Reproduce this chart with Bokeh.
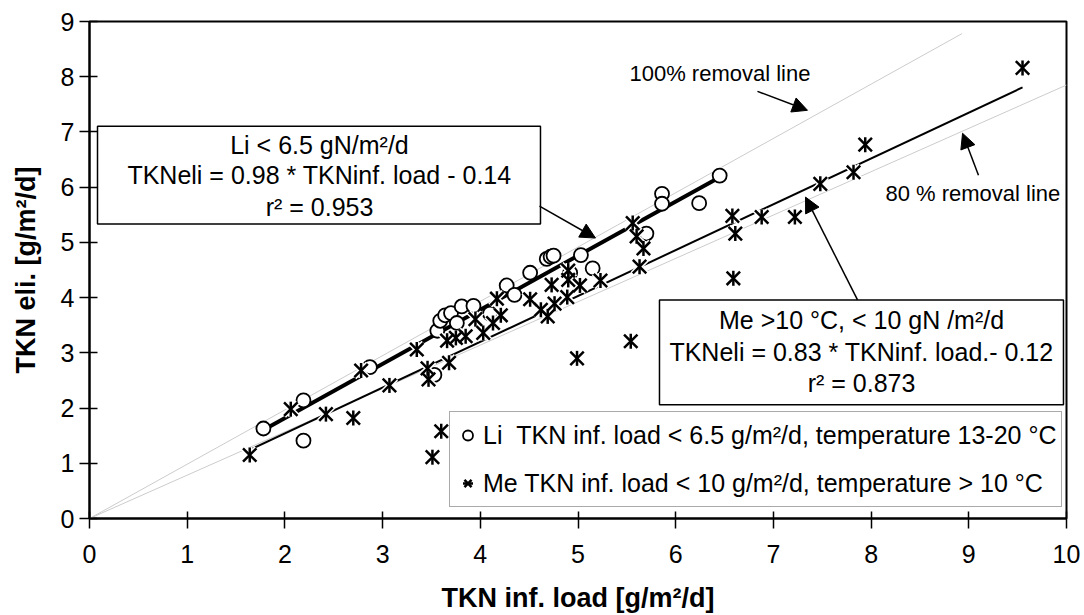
import numpy as np
from bokeh.plotting import figure
from bokeh.models import Range1d, FixedTicker, Arrow, NormalHead, Legend, LegendItem
from bokeh.core.properties import value
from bokeh.embed import file_html
from bokeh.resources import INLINE

# ---------------- data ----------------
li_x = [1.78, 2.19, 2.19, 2.87, 3.53, 3.56, 3.59, 3.64, 3.70, 3.76, 3.81, 3.93, 4.10, 4.27,
        4.35, 4.51, 4.68, 4.72, 4.75, 4.92, 5.03, 5.15, 5.70, 5.86, 5.86, 6.24, 6.45]
li_y = [1.63, 1.41, 2.14, 2.74, 2.60, 3.40, 3.58, 3.68, 3.72, 3.54, 3.84, 3.85, 3.71, 4.22,
        4.05, 4.45, 4.70, 4.74, 4.76, 4.45, 4.77, 4.53, 5.16, 5.88, 5.70, 5.71, 6.21]

me_x = [1.64, 2.06, 2.42, 2.70, 2.78, 3.07, 3.35, 3.46, 3.47, 3.51, 3.60, 3.68, 3.66, 3.75,
        3.85, 3.95, 4.03, 4.13, 4.21, 4.17, 4.51, 4.62, 4.69, 4.73, 4.76, 4.89, 4.90, 4.90,
        5.02, 5.23, 4.99, 5.54, 5.56, 5.60, 5.67, 5.63, 6.58, 6.61, 6.59, 6.88, 7.22, 7.48,
        7.82, 7.94, 9.55]
me_y = [1.15, 1.98, 1.89, 1.82, 2.68, 2.41, 3.06, 2.72, 2.52, 1.11, 1.58, 2.82, 3.22, 3.27,
        3.30, 3.61, 3.36, 3.54, 3.68, 3.98, 3.97, 3.78, 3.66, 4.23, 3.89, 4.01, 4.49, 4.32,
        4.22, 4.31, 2.90, 3.21, 5.35, 5.11, 4.89, 4.56, 5.48, 5.16, 4.35, 5.46, 5.46, 6.06,
        6.27, 6.77, 8.16]

li_slope, li_intercept = 0.98, -0.14
me_slope, me_intercept = 0.83, -0.12

ref100_x = [0.0, 8.93]
ref100_y = [0.0, 8.78]
ref80_x = [0.0, 10.0]
ref80_y = [0.0, 7.85]

x_ticks = [0, 1, 2, 3, 4, 5, 6, 7, 8, 9, 10]
y_ticks = [0, 1, 2, 3, 4, 5, 6, 7, 8, 9]

li_box_lines = ["Li < 6.5 gN/m²/d", "TKNeli = 0.98 * TKNinf. load - 0.14", "r² = 0.953"]
me_box_lines = ["Me >10 °C, < 10 gN /m²/d", "TKNeli = 0.83 * TKNinf. load.- 0.12", "r² = 0.873"]
li_legend = "Li \u00a0TKN inf. load < 6.5 g/m²/d, temperature 13-20 °C"
me_legend = "Me TKN inf. load < 10 g/m²/d, temperature > 10 °C"

FONT = "Liberation Sans"

# ---------------- figure ----------------
p = figure(width=1084, height=615, x_range=Range1d(0, 10), y_range=Range1d(0, 9),
           output_backend="svg", toolbar_location=None,
           min_border_left=89, min_border_right=18, min_border_top=21, min_border_bottom=96)
p.xgrid.visible = False
p.ygrid.visible = False
p.outline_line_color = "black"
p.outline_line_width = 2
p.background_fill_color = "white"

p.xaxis.ticker = FixedTicker(ticks=x_ticks)
p.yaxis.ticker = FixedTicker(ticks=y_ticks)
p.xaxis.axis_label = "TKN inf. load [g/m²/d]"
p.yaxis.axis_label = "TKN eli. [g/m²/d]"
for ax in (p.xaxis, p.yaxis):
    ax.axis_label_text_font = FONT
    ax.axis_label_text_font_style = "bold"
    ax.axis_label_text_font_size = "27px"
    ax.axis_label_text_color = "black"
    ax.major_label_text_font = FONT
    ax.major_label_text_font_size = "25px"
    ax.major_label_text_color = "black"
    ax.axis_line_width = 2
    ax.axis_line_color = "black"
    ax.major_tick_line_color = "black"
    ax.major_tick_line_width = 1.5
    ax.minor_tick_line_color = None
p.xaxis.major_tick_in = 7
p.xaxis.major_tick_out = 10
p.yaxis.major_tick_in = 8
p.yaxis.major_tick_out = 10
p.xaxis.major_label_standoff = 16
p.yaxis.major_label_standoff = 5
p.xaxis.axis_label_standoff = 17
p.yaxis.axis_label_standoff = 17

# reference lines
p.line(ref100_x, ref100_y, line_color="#cccccc", line_width=1)
p.line(ref80_x, ref80_y, line_color="#cccccc", line_width=1)

# regression lines
li_fx = np.array([min(li_x), max(li_x)])
me_fx = np.array([min(me_x), max(me_x)])
p.line(li_fx, li_slope * li_fx + li_intercept, line_color="black", line_width=4)
p.line(me_fx, me_slope * me_fx + me_intercept, line_color="black", line_width=2)

# markers
circ = p.scatter(li_x, li_y, marker="circle", size=14, fill_color="white",
                 line_color="black", line_width=1.8)
p.scatter(me_x, me_y, marker="x", size=19, line_color="white", line_width=5.5)
p.scatter(me_x, me_y, marker="dash", angle=np.pi / 2, size=15, line_color="white", line_width=5.5)
mx = p.scatter(me_x, me_y, marker="x", size=19, line_color="black", line_width=2.5)
md = p.scatter(me_x, me_y, marker="dash", angle=np.pi / 2, size=15, line_color="black",
               line_width=2.5)

# annotation boxes
p.quad(left=[0.082, 5.834], right=[4.616, 9.969], top=[7.103, 3.958], bottom=[5.332, 2.060],
       fill_color="white", line_color="black", line_width=1.5)
p.text(x=[2.354] * 3, y=[6.759, 6.217, 5.639], text=li_box_lines,
       text_font=value(FONT), text_font_size="25px", text_align="center",
       text_baseline="middle", text_color="black")
p.text(x=[7.902] * 3, y=[3.596, 3.018, 2.458], text=me_box_lines,
       text_font=value(FONT), text_font_size="25px", text_align="center",
       text_baseline="middle", text_color="black")
p.text(x=[5.527, 8.147], y=[8.061, 5.892], text=["100% removal line", "80 % removal line"],
       text_font=value(FONT), text_font_size="22px", text_align="left",
       text_baseline="middle", text_color="black")

# arrows
for xs, ys, xe, ye in [(4.606, 5.657, 5.179, 5.079),
                       (6.837, 7.735, 7.349, 7.392),
                       (9.099, 6.217, 8.936, 6.976),
                       (7.861, 3.958, 7.329, 5.820)]:
    p.add_layout(Arrow(end=NormalHead(size=15, fill_color="black", line_color="black"),
                       x_start=xs, y_start=ys, x_end=xe, y_end=ye,
                       line_color="black", line_width=1.5))

# legend
legend = Legend(items=[LegendItem(label=li_legend, renderers=[circ]),
                       LegendItem(label=me_legend, renderers=[mx, md])],
                location=(360, 11), padding=5, spacing=12, glyph_width=25, glyph_height=36,
                label_standoff=3, label_text_font=FONT, label_text_font_size="25px",
                label_text_color="black", border_line_color="#555555", border_line_width=1.5,
                background_fill_color="white", background_fill_alpha=1.0, margin=0)
p.add_layout(legend)

open("out.html", "w").write(file_html(p, INLINE))
